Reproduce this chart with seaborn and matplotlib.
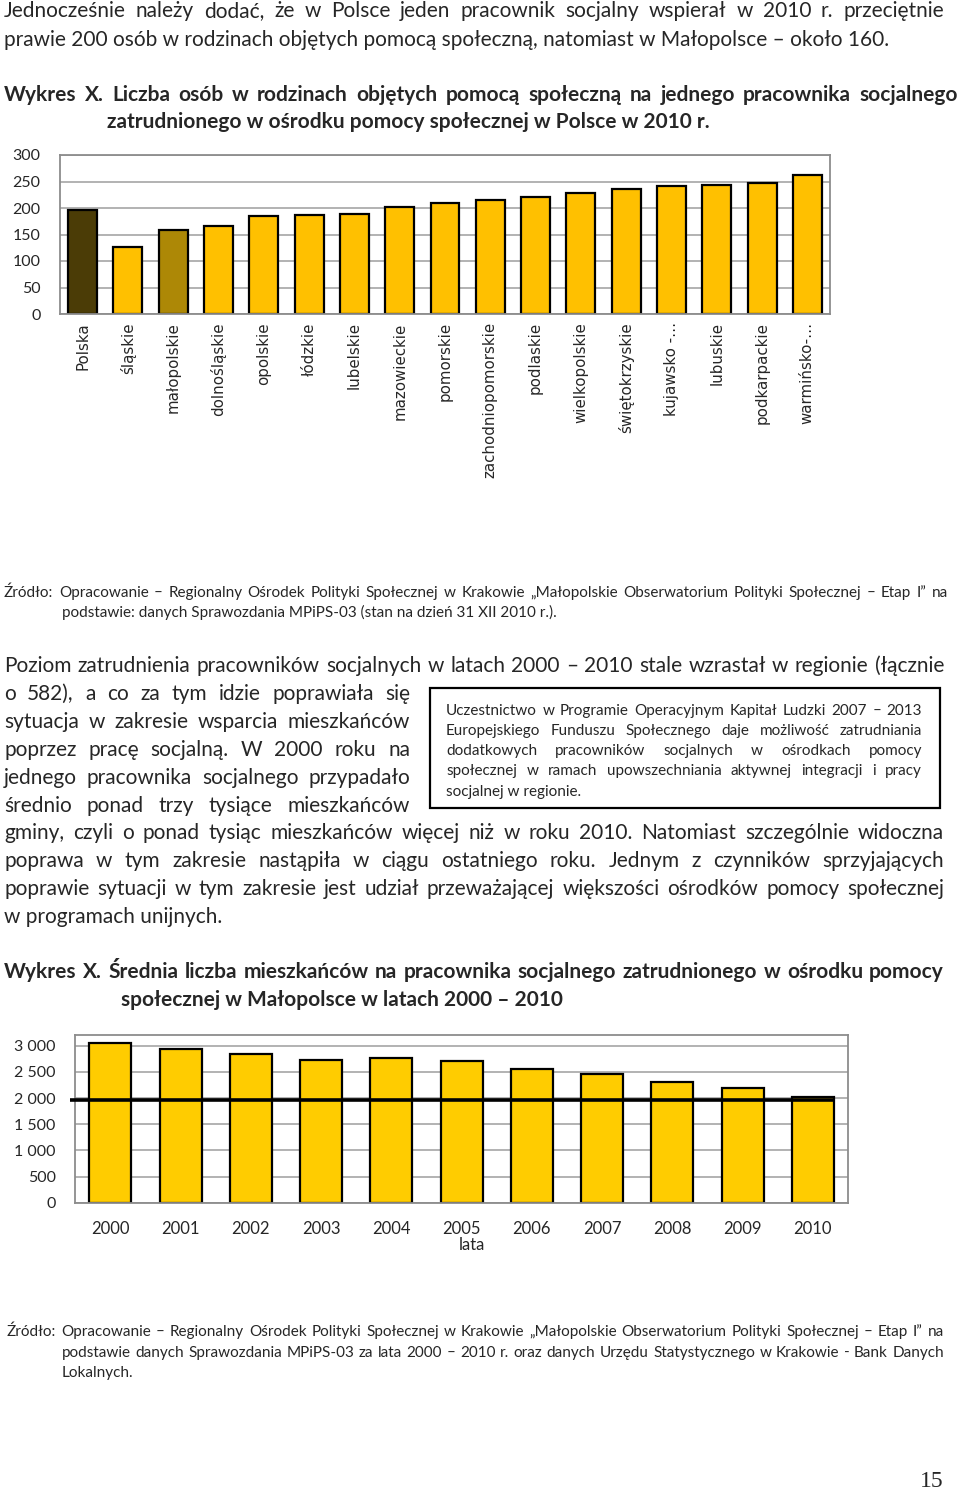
import matplotlib
matplotlib.use("Agg")
import matplotlib.pyplot as plt
import numpy as np
import seaborn as sns
from matplotlib.patches import Rectangle

# --- data: wykres 1 (2010, osoby na pracownika socjalnego) ---
regiony = ["Polska", "śląskie", "małopolskie", "dolnośląskie", "opolskie", "łódzkie",
           "lubelskie", "mazowieckie", "pomorskie", "zachodniopomorskie", "podlaskie",
           "wielkopolskie", "świętokrzyskie", "kujawsko -…", "lubuskie", "podkarpackie",
           "warmińsko-…"]
osoby_2010 = [197, 126, 158, 166, 184, 187, 189, 201, 210, 215, 221, 228, 235, 241, 243, 248, 262]
y1_ticks = [0, 50, 100, 150, 200, 250, 300]

# --- data: wykres 2 (Małopolska 2000-2010) ---
lata = ["2000", "2001", "2002", "2003", "2004", "2005", "2006", "2007", "2008", "2009", "2010"]
mieszkancy = [3057, 2943, 2847, 2733, 2771, 2714, 2549, 2459, 2300, 2192, 2026]
linia_poziom = 1957
y2_ticks = [0, 500, 1000, 1500, 2000, 2500, 3000]

ZOLTY = "#FFC000"
kolory1 = {r: ZOLTY for r in regiony}
kolory1["Polska"] = "#4B3C06"
kolory1["małopolskie"] = "#AD8806"

W, H = 960, 1490
BODY = ["Lato", "DejaVu Sans"]
GRID = "#A6A6A6"
FRAME = "#8C8C8C"

sns.set_style("white")
plt.rcParams["font.family"] = BODY

fig = plt.figure(figsize=(W / 100, H / 100), dpi=100)
renderer = fig.canvas.get_renderer()


def line(text, x0, y, x1=None, size=15, weight="normal", family=BODY):
    # one line of page text, baseline at y (px from top); justified if x1 given
    kw = dict(fontsize=size, fontweight=weight, family=family, va="baseline", ha="left")
    if x1 is None:
        fig.text(x0 / W, 1 - y / H, text, **kw)
        return
    words = text.split()
    objs = [fig.text(0, 1 - y / H, w, **kw) for w in words]
    widths = [o.get_window_extent(renderer).width for o in objs]
    gap = (x1 - x0 - sum(widths)) / (len(words) - 1)
    x = x0
    for o, w in zip(objs, widths):
        o.set_x(x / W)
        x += w + gap


# --- top text ---
line("Jednocześnie należy dodać, że w Polsce jeden pracownik socjalny wspierał w 2010 r. przeciętnie", 4, 17, 944)
line("prawie 200 osób w rodzinach objętych pomocą społeczną, natomiast w Małopolsce – około 160.", 4, 46)
line("Wykres X. Liczba osób w rodzinach objętych pomocą społeczną na jednego pracownika socjalnego",
     4, 101, 958, weight="bold")
line("zatrudnionego w ośrodku pomocy społecznej w Polsce w 2010 r.", 107, 128, weight="bold")

# --- wykres 1 ---
ax1 = fig.add_axes([60 / W, 1 - 314 / H, 770 / W, 159 / H])
sns.barplot(x=regiony, y=osoby_2010, hue=regiony, palette=kolory1, legend=False,
            width=0.64, edgecolor="black", linewidth=1.6, saturation=1, ax=ax1)
ax1.set_ylim(0, 300)
ax1.set_xlim(-0.5, len(regiony) - 0.5)
ax1.set_yticks(y1_ticks)
ax1.set_yticklabels([str(v) for v in y1_ticks], fontsize=11.5)
ax1.set_xticks(range(len(regiony)))
ax1.set_xticklabels(regiony, rotation=90, fontsize=10.8, family="DejaVu Sans", va="top")
ax1.set_xticks(np.arange(-0.5, len(regiony), 1), minor=True)
ax1.tick_params(axis="x", which="major", length=0, pad=6)
ax1.tick_params(axis="x", which="minor", length=5, color=FRAME, width=1)
ax1.tick_params(axis="y", length=5, color=FRAME, width=1, pad=9)
ax1.yaxis.grid(True, color=GRID, lw=1.2)
ax1.set_axisbelow(True)
ax1.set_xlabel("")
ax1.set_ylabel("")
for s in ax1.spines.values():
    s.set_color(FRAME)
    s.set_linewidth(1.3)

# --- source 1 ---
line("Źródło: Opracowanie – Regionalny Ośrodek Polityki Społecznej w Krakowie „Małopolskie Obserwatorium Polityki Społecznej – Etap I” na",
     4, 597, 948, size=11)
line("podstawie: danych Sprawozdania MPiPS-03 (stan na dzień 31 XII 2010 r.).", 62, 617, size=11)

# --- paragraph ---
line("Poziom zatrudnienia pracowników socjalnych w latach 2000 – 2010 stale wzrastał w regionie (łącznie", 4, 672, 944)
lewa = ["o 582), a co za tym idzie poprawiała się",
        "sytuacja w zakresie wsparcia mieszkańców",
        "poprzez pracę socjalną. W 2000 roku na",
        "jednego pracownika socjalnego przypadało",
        "średnio ponad trzy tysiące mieszkańców"]
for i, t in enumerate(lewa):
    line(t, 4, 700 + 28 * i, 410)
line("gminy, czyli o ponad tysiąc mieszkańców więcej niż w roku 2010. Natomiast szczególnie widoczna", 4, 839, 944)
line("poprawa w tym zakresie nastąpiła w ciągu ostatniego roku. Jednym z czynników sprzyjających", 4, 867, 944)
line("poprawie sytuacji w tym zakresie jest udział przeważającej większości ośrodków pomocy społecznej", 4, 895, 944)
line("w programach unijnych.", 4, 923)

# --- box ---
fig.add_artist(Rectangle((430 / W, 1 - 808 / H), 510 / W, 120 / H, transform=fig.transFigure,
                         fill=False, edgecolor="black", linewidth=1.6))
ramka = ["Uczestnictwo w Programie Operacyjnym Kapitał Ludzki 2007 – 2013",
         "Europejskiego Funduszu Społecznego daje możliwość zatrudniania",
         "dodatkowych pracowników socjalnych w ośrodkach pomocy",
         "społecznej w ramach upowszechniania aktywnej integracji i pracy"]
for i, t in enumerate(ramka):
    line(t, 446, 715 + 20 * i, 922, size=11)
line("socjalnej w regionie.", 446, 796, size=11)

# --- title 2 ---
line("Wykres X. Średnia liczba mieszkańców na pracownika socjalnego zatrudnionego w ośrodku pomocy",
     4, 978, 944, weight="bold")
line("społecznej w Małopolsce w latach 2000 – 2010", 121, 1006, weight="bold")

# --- wykres 2 ---
ax2 = fig.add_axes([75.3 / W, 1 - 1202.7 / H, 772.7 / W, 167.5 / H])
sns.barplot(x=lata, y=mieszkancy, color="#FFCC00", width=0.6, edgecolor="black",
            linewidth=1.6, saturation=1, ax=ax2)
ax2.plot([-0.575, len(lata) - 0.7], [linia_poziom, linia_poziom], color="black", lw=2.6,
         clip_on=False, solid_capstyle="butt", zorder=5)
ax2.set_ylim(0, 3200)
ax2.set_xlim(-0.5, len(lata) - 0.5)
ax2.set_yticks(y2_ticks)
ax2.set_yticklabels([f"{v:,}".replace(",", " ") for v in y2_ticks], fontsize=11.5)
ax2.set_xticks(range(len(lata)))
ax2.set_xticklabels(lata, fontsize=12)
ax2.set_xticks(np.arange(-0.5, len(lata), 1), minor=True)
ax2.tick_params(axis="x", which="major", length=0, pad=13)
ax2.tick_params(axis="x", which="minor", length=5, color=FRAME, width=1)
ax2.tick_params(axis="y", length=5, color=FRAME, width=1, pad=9)
ax2.yaxis.grid(True, color=GRID, lw=1.2)
ax2.set_axisbelow(True)
ax2.set_ylabel("")
ax2.set_xlabel("lata", fontsize=12)
ax2.xaxis.set_label_coords((472 - 75.3) / 772.7, -0.205)
for s in ax2.spines.values():
    s.set_color(FRAME)
    s.set_linewidth(1.3)

# --- source 2 ---
line("Źródło: Opracowanie – Regionalny Ośrodek Polityki Społecznej w Krakowie „Małopolskie Obserwatorium Polityki Społecznej – Etap I” na",
     7, 1336, 944, size=11)
line("podstawie danych Sprawozdania MPiPS-03 za lata 2000 – 2010 r. oraz danych Urzędu Statystycznego w Krakowie - Bank Danych",
     62, 1357, 944, size=11)
line("Lokalnych.", 62, 1377, size=11)

fig.text(944 / W, 1 - 1487 / H, "15", fontsize=17, family="Liberation Serif", ha="right", va="baseline")

fig.savefig("out.png", dpi=100)
